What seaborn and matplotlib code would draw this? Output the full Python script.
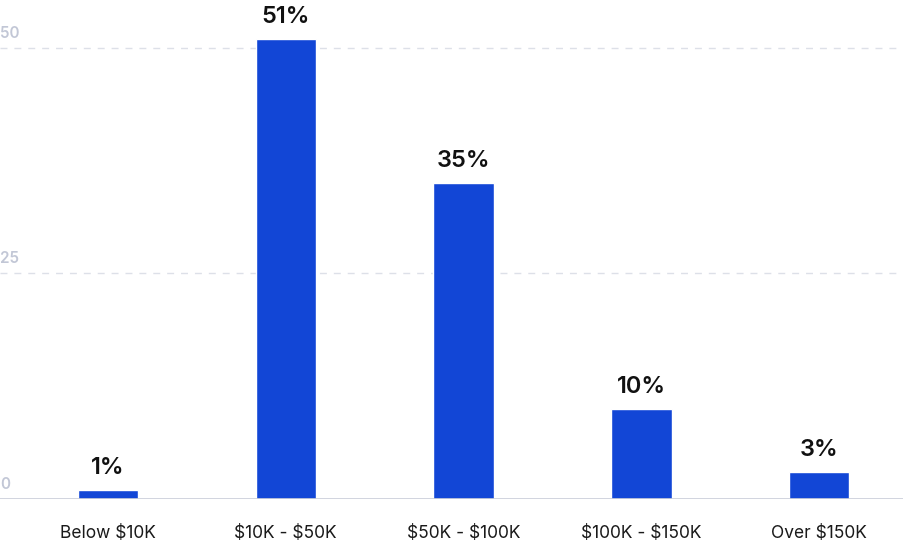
import matplotlib
matplotlib.use("Agg")
import matplotlib.pyplot as plt
import matplotlib.transforms as mtransforms
import pandas as pd
import seaborn as sns

# Data
categories = ["Below $10K", "$10K - $50K", "$50K - $100K", "$100K - $150K", "Over $150K"]
shares = [1, 51, 35, 10, 3]
y_ticks = [0, 25, 50]

df = pd.DataFrame({"Income": categories, "Share": shares})

sns.set_theme(style="white")
plt.rcParams["font.family"] = ["Inter", "DejaVu Sans"]
plt.rcParams["text.parse_math"] = False

fig = plt.figure(figsize=(9.04, 5.43), dpi=100)
ax = fig.add_axes([0, 44 / 543, 1, 499 / 543])

sns.barplot(data=df, x="Income", y="Share", color="#1246D6", width=0.34,
            saturation=1, ax=ax)

ax.set_xlim(-0.608, 4.478)
ax.set_ylim(0, 55.3)

# gridlines + tick labels
grid_tf = mtransforms.blended_transform_factory(ax.transAxes, ax.transData)
for t in y_ticks:
    if t == 0:
        ax.axhline(0, color="#c9cdd9", lw=1.2, zorder=3)
    else:
        ax.axhline(t, color="#dde0e8", lw=1, ls=(0, (5, 5)), zorder=0)
    ax.annotate(str(t), (0, t), xycoords=grid_tf, xytext=(0, 5),
                textcoords="offset points", ha="left", va="bottom",
                fontsize=11, color="#c2c7d6", fontweight="semibold")

# value labels
for p, v in zip(ax.patches, shares):
    ax.annotate(f"{v}%", (p.get_x() + p.get_width() / 2, p.get_height()),
                xytext=(0, 8), textcoords="offset points", ha="center",
                va="bottom", fontsize=17, fontweight="semibold", color="#111111")

ax.set_xlabel("")
ax.set_ylabel("")
ax.set_yticks([])
ax.tick_params(axis="x", length=0, pad=19, labelsize=12.5, labelcolor="#1a1a1a")
for s in ax.spines.values():
    s.set_visible(False)

fig.savefig("out.png", dpi=100)
